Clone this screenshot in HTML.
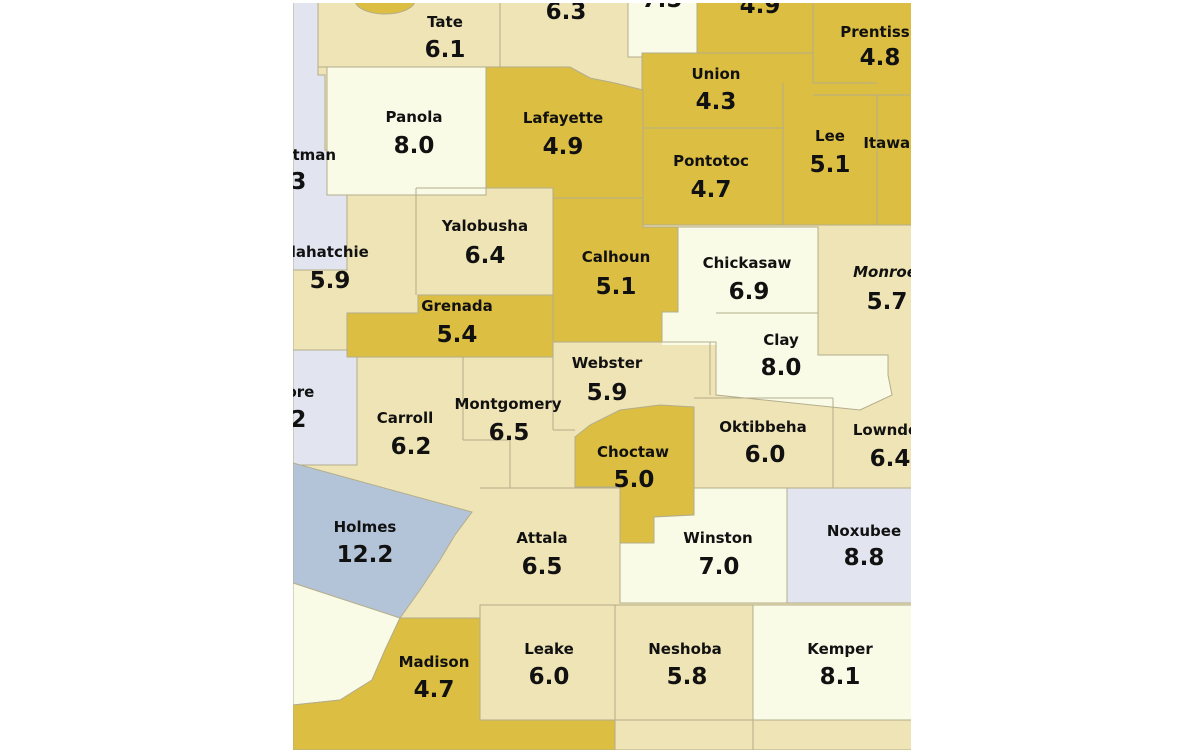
<!DOCTYPE html>
<html><head><meta charset="utf-8"><style>
html,body{margin:0;padding:0;background:#fff;width:1200px;height:750px;overflow:hidden}
svg{display:block}
text{font-family:"DejaVu Sans","Liberation Sans",sans-serif;fill:#111;text-anchor:middle;dominant-baseline:central}
.n{font-size:15px;font-weight:bold}
.v{font-size:23px;font-weight:bold}
</style></head><body>
<svg width="1200" height="750" viewBox="0 0 1200 750">
<defs><clipPath id="c"><rect x="293" y="3" width="618" height="747"/></clipPath></defs>
<g clip-path="url(#c)" stroke="#b3ad8c" stroke-width="1">
<rect x="293" y="0" width="620" height="750" fill="#efe4b5"/>
<polygon points="293,0 318,0 318,75 325,75 325,150 347,150 347,270 293,270" fill="#e2e5f0"/>
<polygon points="293,350 357,350 357,465 293,465" fill="#e2e5f0"/>
<ellipse cx="385" cy="0" rx="30" ry="14" fill="#dcbe42"/>
<polygon points="628,0 697,0 697,57 642,57 628,57" fill="#fafbe6"/>
<polygon points="697,0 920,0 920,225 642,225 642,53 697,53" fill="#dcbe42"/>
<line x1="642" y1="128" x2="783" y2="128"/><line x1="783" y1="83" x2="783" y2="225"/>
<line x1="813" y1="0" x2="813" y2="83"/><line x1="813" y1="83" x2="877" y2="83"/>
<line x1="877" y1="95" x2="877" y2="225"/><line x1="813" y1="95" x2="910" y2="95"/>
<line x1="697" y1="53" x2="813" y2="53"/>
<polygon points="327,67 486,67 486,195 327,195" fill="#fafbe6"/>
<polygon points="486,67 570,67 590,78 615,83 643,90 643,198 553,198 553,188 486,188" fill="#dcbe42"/>
<polygon points="662,310 716,310 716,345 662,345" fill="#fafbe6" stroke="none"/>
<polygon points="553,198 643,198 643,227 678,227 678,312 662,312 662,342 553,342" fill="#dcbe42"/>
<polygon points="678,227 818,227 818,355 888,355 888,375 892,395 860,410 716,395 716,342 662,342 662,312 678,312" fill="#fafbe6"/>
<line x1="716" y1="313" x2="818" y2="313"/>
<polygon points="347,313 418,313 418,295 553,295 553,357 347,357" fill="#dcbe42"/>
<line x1="416" y1="188" x2="416" y2="295"/><line x1="416" y1="188" x2="553" y2="188"/>
<line x1="318" y1="67" x2="486" y2="67"/><line x1="500" y1="0" x2="500" y2="67"/>
<line x1="463" y1="357" x2="463" y2="440"/><line x1="463" y1="440" x2="510" y2="440"/><line x1="510" y1="440" x2="510" y2="488"/>
<line x1="553" y1="357" x2="553" y2="430"/><line x1="553" y1="430" x2="575" y2="430"/>
<line x1="553" y1="342" x2="710" y2="342"/><line x1="710" y1="342" x2="710" y2="395"/>
<line x1="694" y1="398" x2="833" y2="398"/><line x1="833" y1="398" x2="833" y2="488"/>
<line x1="480" y1="488" x2="620" y2="488"/>
<polygon points="575,437 590,425 620,410 660,405 694,407 694,515 654,517 654,543 620,543 620,487 575,487" fill="#dcbe42"/>
<polygon points="694,488 787,488 787,603 620,603 620,543 654,543 654,517 694,515" fill="#fafbe6"/>
<polygon points="787,488 920,488 920,603 787,603" fill="#e2e5f0"/>
<polygon points="293,463 472,512 455,535 440,560 420,590 400,618 293,583" fill="#b4c4d8"/>
<polygon points="293,583 400,618 385,650 372,680 340,700 293,705" fill="#fafbe6"/>
<polygon points="400,618 480,618 480,720 615,720 615,750 293,750 293,705 340,700 372,680 385,650" fill="#dcbe42"/>
<polygon points="480,605 753,605 753,720 480,720" fill="#efe4b5"/>
<line x1="615" y1="605" x2="615" y2="750"/>
<polygon points="753,605 920,605 920,720 753,720" fill="#fafbe6"/>
<line x1="753" y1="720" x2="753" y2="750"/>
</g>
<g clip-path="url(#c)">
<text class="n" x="445" y="22">Tate</text><text class="v" x="445" y="50">6.1</text>
<text class="v" x="566" y="12">6.3</text><text class="v" x="662" y="0">7.5</text>
<text class="v" x="760" y="6">4.9</text>
<text class="n" x="875" y="32">Prentiss</text><text class="v" x="880" y="58">4.8</text>
<text class="n" x="716" y="74">Union</text><text class="v" x="716" y="102">4.3</text>
<text class="n" x="414" y="117">Panola</text><text class="v" x="414" y="146">8.0</text>
<text class="n" x="563" y="118">Lafayette</text><text class="v" x="563" y="147">4.9</text>
<text class="n" x="711" y="161">Pontotoc</text><text class="v" x="711" y="190">4.7</text>
<text class="n" x="830" y="136">Lee</text><text class="v" x="830" y="165">5.1</text>
<text class="n" x="905" y="143">Itawamba</text>
<text class="n" x="300" y="155">Quitman</text><text class="v" x="286" y="182">8.3</text>
<text class="n" x="318" y="252">Tallahatchie</text><text class="v" x="330" y="281">5.9</text>
<text class="n" x="485" y="226">Yalobusha</text><text class="v" x="485" y="256">6.4</text>
<text class="n" x="616" y="257">Calhoun</text><text class="v" x="616" y="287">5.1</text>
<text class="n" x="747" y="263">Chickasaw</text><text class="v" x="749" y="292">6.9</text>
<text class="n" x="885" y="272" font-style="italic">Monroe</text><text class="v" x="887" y="302">5.7</text>
<text class="n" x="457" y="306">Grenada</text><text class="v" x="457" y="335">5.4</text>
<text class="n" x="781" y="340">Clay</text><text class="v" x="781" y="368">8.0</text>
<text class="n" x="607" y="363">Webster</text><text class="v" x="607" y="393">5.9</text>
<text class="n" x="285" y="392">Leflore</text><text class="v" x="286" y="420">9.2</text>
<text class="n" x="405" y="418">Carroll</text><text class="v" x="411" y="447">6.2</text>
<text class="n" x="508" y="404">Montgomery</text><text class="v" x="509" y="433">6.5</text>
<text class="n" x="633" y="452">Choctaw</text><text class="v" x="634" y="480">5.0</text>
<text class="n" x="763" y="427">Oktibbeha</text><text class="v" x="765" y="455">6.0</text>
<text class="n" x="890" y="430">Lowndes</text><text class="v" x="890" y="459">6.4</text>
<text class="n" x="365" y="527">Holmes</text><text class="v" x="365" y="555">12.2</text>
<text class="n" x="542" y="538">Attala</text><text class="v" x="542" y="567">6.5</text>
<text class="n" x="718" y="538">Winston</text><text class="v" x="719" y="567">7.0</text>
<text class="n" x="864" y="531">Noxubee</text><text class="v" x="864" y="558">8.8</text>
<text class="n" x="434" y="662">Madison</text><text class="v" x="434" y="690">4.7</text>
<text class="n" x="549" y="649">Leake</text><text class="v" x="549" y="677">6.0</text>
<text class="n" x="685" y="649">Neshoba</text><text class="v" x="687" y="677">5.8</text>
<text class="n" x="840" y="649">Kemper</text><text class="v" x="840" y="677">8.1</text>
</g>
</svg>
</body></html>
